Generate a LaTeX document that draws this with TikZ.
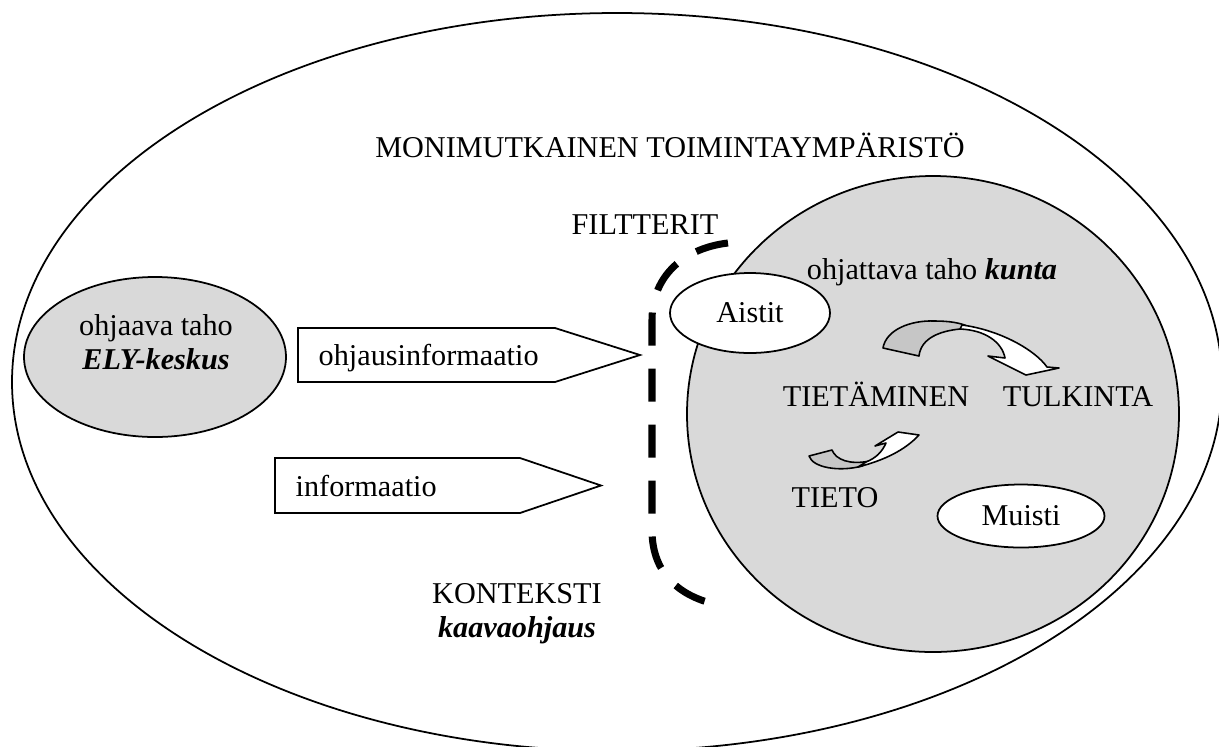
\documentclass[tikz,border=0pt]{standalone}
\usepackage{fontspec}
\setmainfont{Liberation Serif}
\usetikzlibrary{shapes.geometric}
\definecolor{ink}{HTML}{000000}
\definecolor{shade}{HTML}{D9D9D9}
\definecolor{fold}{HTML}{C6C6C6}
\tikzset{
  lbl/.style={font=\fontsize{8.6}{9.65}\selectfont,inner sep=0pt},
  rim/.style={draw=ink,line width=0.5pt},
  blob/.style={ellipse,draw=ink,line width=0.5pt,fill=white,inner sep=0pt,font=\fontsize{8.6}{9.65}\selectfont},
  filter/.style={draw=ink,line width=2pt,dash pattern=on 3.3mm off 2.3mm},
  infoarrow/.style={draw=ink,line width=0.5pt,fill=white,line join=miter},
  foldback/.style={draw=ink,line width=0.45pt,fill=fold,line join=round},
  foldfront/.style={draw=ink,line width=0.45pt,fill=white,line join=round},
}

\begin{document}
\begin{tikzpicture}[x=0.1mm,y=-0.1mm]
  \useasboundingbox (0,0) rectangle (1219,746);
  % ---------- environment and the two actors ----------
  \draw[rim] (617,382) ellipse [x radius=60.5mm, y radius=36.9mm];
  \filldraw[rim,fill=shade] (155,357) ellipse [x radius=13.1mm, y radius=8mm];
  \filldraw[rim,fill=shade] (933,414) ellipse [x radius=24.6mm, y radius=23.8mm];
  % ---------- filter ----------
  \draw[filter] (728,243) .. controls (685,248) and (652,275) .. (652,320)
     -- (652,530) .. controls (652,570) and (675,592) .. (707,602);
  % ---------- information arrows ----------
  \foreach \nm/\xl/\xs/\xt/\yt/\yb/\txt in {ohj/298/555/640/328/382/ohjausinformaatio, inf/275/520/601/458/513/informaatio}{
    \draw[infoarrow] (\xl,\yt) -- (\xs,\yt) -- (\xt,{(\yt+\yb)/2}) -- (\xs,\yb) -- (\xl,\yb) -- cycle;
    \node[lbl,anchor=base west] (\nm) at (\xl+20,\yb-17) {\txt};
  }
  % ---------- curved arrows ----------
  \filldraw[foldback] (883,348) .. controls (886,330) and (910,320) .. (935,321)
     .. controls (950,321) and (960,323) .. (967,326)
     -- (960,329) .. controls (940,331) and (921,338) .. (919,356) -- cycle;
  \filldraw[foldfront] (962,325) .. controls (1000,330) and (1035,350) .. (1047,367)
     -- (1059,368) -- (1026,375) -- (988,356) -- (1005,358)
     .. controls (1002,342) and (985,330) .. (960,329) -- cycle;
  \filldraw[foldback] (809,456) .. controls (813,468) and (840,472) .. (862,466)
     -- (870,461) .. controls (850,465) and (836,460) .. (832,450) -- cycle;
  \filldraw[foldfront] (858,467) .. controls (885,460) and (905,450) .. (919,435)
     -- (898,432) -- (875,446) -- (886,443)
     .. controls (882,452) and (876,458) .. (866,462) -- cycle;
  % ---------- labels ----------
  \node[blob,minimum width=16mm,minimum height=8mm] (aistit) at (750,313) {Aistit};
  \node[blob,minimum width=16.7mm,minimum height=6.3mm] (muisti) at (1021,516) {Muisti};
  \node[lbl,anchor=base] (env) at (670,157) {MONIMUTKAINEN TOIMINTAYMP\"ARIST\"O};
  \node[lbl,anchor=base] (filt) at (645,234) {FILTTERIT};
  \node[lbl,anchor=base,align=center] (ely) at (156,369) {ohjaava taho\\\textbf{\textit{ELY-keskus}}};
  \node[lbl,anchor=base] (kunta) at (932,279) {ohjattava taho \textbf{\textit{kunta}}};
  \node[lbl,anchor=base] (tietam) at (876,406) {TIET\"AMINEN};
  \node[lbl,anchor=base] (tulk) at (1078,406) {TULKINTA};
  \node[lbl,anchor=base] (tieto) at (835,507) {TIETO};
  \node[lbl,anchor=base,align=center] (kont) at (517,637) {KONTEKSTI\\\textbf{\textit{kaavaohjaus}}};
\end{tikzpicture}
\end{document}
